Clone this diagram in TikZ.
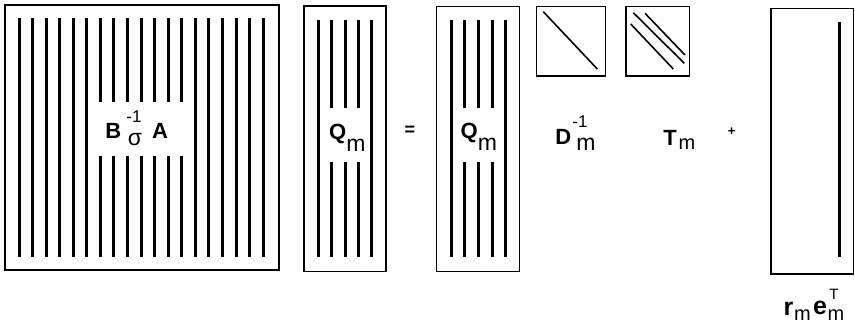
\documentclass[tikz,border=0pt]{standalone}
\usepackage{fontspec}
\setmainfont{Liberation Sans}
\usepackage{graphicx}
\tikzset{
  frame/.style={draw=black, line width=1.4pt},
  col/.style={line width=3pt},
  diag/.style={line width=1.6pt},
  capb/.style={inner sep=0pt, font=\fontsize{22}{22}\selectfont\bfseries},
  lowr/.style={inner sep=0pt, font=\fontsize{23}{23}\selectfont},
  lowb/.style={inner sep=0pt, font=\fontsize{25}{25}\selectfont\bfseries},
  supr/.style={inner sep=0pt, font=\fontsize{17}{17}\selectfont},
  opr/.style={inner sep=0pt, font=\fontsize{18}{18}\selectfont\bfseries},
}
\begin{document}
\begin{tikzpicture}[x=1pt,y=-1pt]
\useasboundingbox (0,0) rectangle (855,327);
% big matrix B_sigma^{-1} A
\draw[frame] (5,5) rectangle (279,270);
\foreach \i in {0,...,18}{
  \pgfmathsetmacro{\xx}{19+13.57*\i}
  \ifnum\i<6
    \draw[col] (\xx,18.3) -- (\xx,256.7);
  \else\ifnum\i>12
    \draw[col] (\xx,18.3) -- (\xx,256.7);
  \else
    \draw[col] (\xx,18.3) -- (\xx,101.7);
    \draw[col] (\xx,156) -- (\xx,256.7);
  \fi\fi
}
\node[capb] (B) at (113.3,130.7) {B};
\node[supr] (Bsup) at (134,116.5) {-1};
\node[lowr] (Bsig) at (135,140) {σ};
\node[capb] (A) at (160,130.7) {A};
% Q_m left
\draw[frame] (304,6) rectangle (386,271.7);
\foreach \xx [count=\k] in {318.3,331.7,345,358.3,371.7}{
  \ifnum\k=1 \draw[col] (\xx,20) -- (\xx,256.7);
  \else\ifnum\k=5 \draw[col] (\xx,20) -- (\xx,256.7);
  \else
    \draw[col] (\xx,20) -- (\xx,108);
    \draw[col] (\xx,161.7) -- (\xx,256.7);
  \fi\fi
}
\node[capb] (Q1) at (337.7,133.5) {Q};
\node[lowr] (Q1m) at (356,145) {m};
% equals
\node[opr] (eq) at (410,131) {=};
% Q_m right
\draw[frame] (436.7,6.7) rectangle (519.3,271.7);
\foreach \xx [count=\k] in {451,464.5,478,492,505.5}{
  \ifnum\k=1 \draw[col] (\xx,20) -- (\xx,256.7);
  \else\ifnum\k=5 \draw[col] (\xx,20) -- (\xx,256.7);
  \else
    \draw[col] (\xx,20) -- (\xx,108);
    \draw[col] (\xx,161.7) -- (\xx,256.7);
  \fi\fi
}
\node[capb] (Q2) at (469.2,133) {Q};
\node[lowr] (Q2m) at (487.5,144.5) {m};
% D_m^{-1}
\draw[frame] (536.7,6.7) rectangle (605.7,76);
\draw[diag] (543.3,11.7) -- (597.3,69);
\node[capb] (D) at (563.3,136.7) {D};
\node[supr] (Dsup) at (580,121.5) {-1};
\node[lowr] (Dm) at (586,144) {m};
% T_m
\draw[frame] (626,6.7) rectangle (689.3,76);
\draw[diag] (633.3,12.7) -- (684.3,63.3);
\draw[diag] (645,13.3) -- (685,55);
\draw[diag] (630.7,24) -- (673.3,69);
\node[capb] (T) at (670,138.3) {T};
\node[lowr, font=\fontsize{20}{20}\selectfont] (Tm) at (687,144.5) {m};
% plus
\node[opr, font=\fontsize{13}{13}\selectfont\bfseries] (plus) at (731.7,131.7) {+};
% r_m e_m^T
\draw[frame] (771,8.3) rectangle (853.3,274);
\draw[col] (839,21.7) -- (839,257.3);
\node[lowb] (r) at (788.5,308.3) {r};
\node[lowr, font=\fontsize{20}{20}\selectfont] (rm) at (802.5,315.3) {m};
\node[lowb] (e) at (820,308.3) {e};
\node[supr, font=\fontsize{15}{15}\selectfont] (eT) at (834,294.5) {T};
\node[lowr, font=\fontsize{20}{20}\selectfont] (em) at (836,315) {m};
\end{tikzpicture}
\end{document}
